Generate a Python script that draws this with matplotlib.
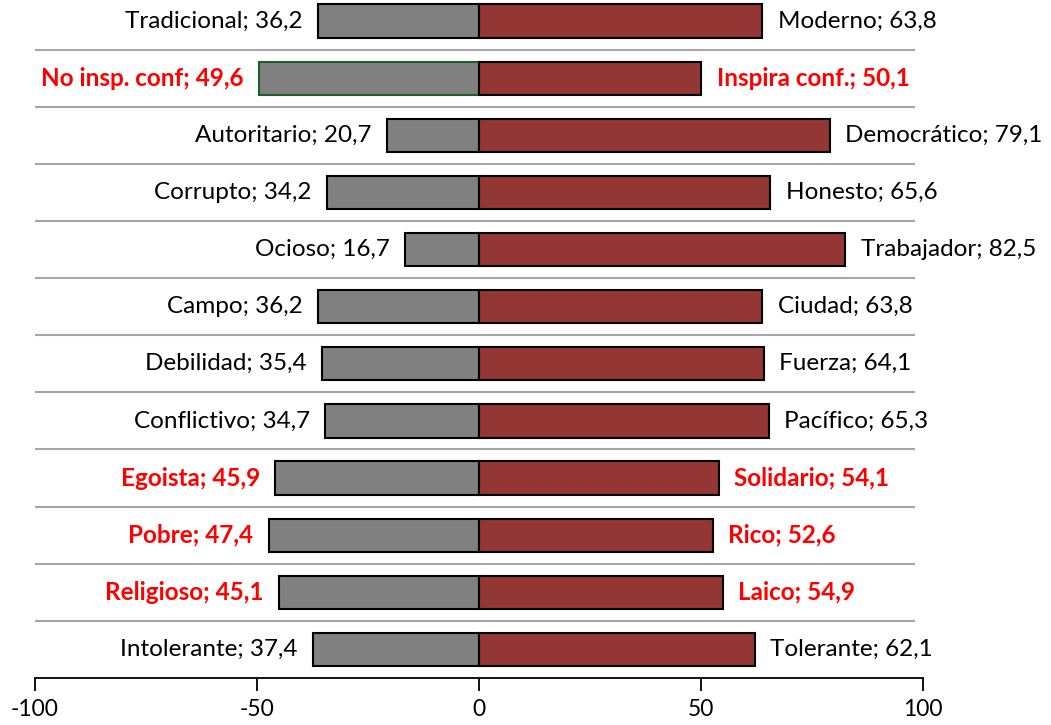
import matplotlib
matplotlib.use("Agg")
from matplotlib import pyplot as plt

left_names = ["Tradicional", "No insp. conf", "Autoritario", "Corrupto", "Ocioso", "Campo",
              "Debilidad", "Conflictivo", "Egoista", "Pobre", "Religioso", "Intolerante"]
left_values = [36.2, 49.6, 20.7, 34.2, 16.7, 36.2, 35.4, 34.7, 45.9, 47.4, 45.1, 37.4]
right_names = ["Moderno", "Inspira conf.", "Democrático", "Honesto", "Trabajador", "Ciudad",
               "Fuerza", "Pacífico", "Solidario", "Rico", "Laico", "Tolerante"]
right_values = [63.8, 50.1, 79.1, 65.6, 82.5, 63.8, 64.1, 65.3, 54.1, 52.6, 54.9, 62.1]
highlight = [False, True, False, False, False, False, False, False, True, True, True, False]
ticks = [-100, -50, 0, 50, 100]

plt.rcParams['font.family'] = ['Lato', 'DejaVu Sans']


def fmt(v):
    return ("%.1f" % v).replace('.', ',')


fig = plt.figure(figsize=(10.51, 7.25), dpi=100)
ax = fig.add_axes([35 / 1051, 47 / 725, 888 / 1051, 685.5 / 725])

rows = list(range(len(left_names)))
edge_left = ['#1e5e2e' if i == 1 else 'black' for i in rows]
ax.barh(rows, [-v for v in left_values], height=0.58, color='#808080',
        edgecolor=edge_left, linewidth=1.5, zorder=3)
ax.barh(rows, right_values, height=0.58, color='#943634',
        edgecolor='black', linewidth=1.5, zorder=3)

# separadores entre filas
ax.hlines([i + 0.5 for i in rows[:-1]], -100, 98.2, color='#a6a6a6', linewidth=1.5, zorder=1)

for i in rows:
    col = 'red' if highlight[i] else 'black'
    wt = 'bold' if highlight[i] else 'normal'
    ax.annotate(left_names[i] + "; " + fmt(left_values[i]), (-left_values[i], i),
                xytext=(-11, 0), textcoords='offset points', ha='right', va='center',
                fontsize=17.5, color=col, fontweight=wt)
    ax.annotate(right_names[i] + "; " + fmt(right_values[i]), (right_values[i], i),
                xytext=(11, 0), textcoords='offset points', ha='left', va='center',
                fontsize=17.5, color=col, fontweight=wt, annotation_clip=False)

ax.set_xlim(-100, 100)
ax.set_ylim(11.5, -0.5)
ax.set_xticks(ticks)
ax.set_xticklabels([str(t) for t in ticks], fontsize=16.5)
ax.set_yticks([])
for s in ['left', 'right', 'top']:
    ax.spines[s].set_visible(False)
ax.spines['bottom'].set_linewidth(1.3)
ax.tick_params(axis='x', direction='out', length=9, width=1.3, pad=6)

fig.savefig('out.png', dpi=100)
